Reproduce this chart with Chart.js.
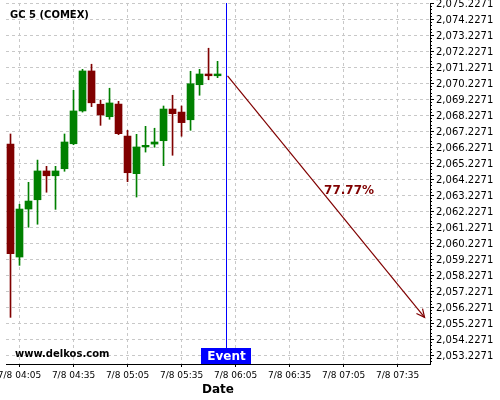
<!DOCTYPE html>
<html><head><meta charset="utf-8">
<script src="https://cdn.jsdelivr.net/npm/chart.js@4"></script>
<style>html,body{margin:0;padding:0;background:#fff}#wrap{width:500px;height:400px}</style>
</head><body><div id="wrap"><canvas id="c" width="500" height="400"></canvas></div>
<script>
// ---- data ----
const chartTitle = 'GC 5 (COMEX)';
const dateLabel = '7/8';
const times = ['04:00','04:05','04:10','04:15','04:20','04:25','04:30','04:35','04:40','04:45','04:50','04:55',
               '05:00','05:05','05:10','05:15','05:20','05:25','05:30','05:35','05:40','05:45','05:50','05:55'];
const openV  = [2066.41,2059.35,2062.35,2062.93,2064.73,2064.43,2064.87,2066.43,2068.48,2070.98,2068.90,2068.12,
                2068.91,2066.91,2064.56,2066.23,2066.41,2066.62,2068.60,2068.41,2067.93,2070.12,2070.79,2070.68];
const highV  = [2067.04,2062.65,2064.02,2065.41,2065.02,2065.02,2067.04,2069.77,2071.08,2071.40,2069.16,2069.90,
                2069.08,2067.27,2067.02,2067.52,2067.40,2068.79,2069.46,2068.79,2070.96,2071.08,2072.40,2071.58];
const lowV   = [2055.58,2058.83,2061.21,2061.40,2063.40,2062.33,2064.71,2066.37,2068.41,2068.75,2067.58,2067.96,
                2067.00,2064.06,2063.10,2065.91,2066.21,2065.06,2065.71,2066.90,2067.27,2069.46,2070.43,2070.56];
const closeV = [2059.56,2062.35,2062.85,2064.73,2064.43,2064.73,2066.54,2068.48,2070.98,2068.99,2068.23,2068.98,
                2067.06,2064.62,2066.23,2066.33,2066.54,2068.60,2068.31,2067.75,2070.18,2070.79,2070.68,2070.79];
const xTickTimes = ['04:05','04:35','05:05','05:35','06:05','06:35','07:05','07:35'];
const yTickValues = [2053.2271,2054.2271,2055.2271,2056.2271,2057.2271,2058.2271,2059.2271,2060.2271,2061.2271,
                     2062.2271,2063.2271,2064.2271,2065.2271,2066.2271,2067.2271,2068.2271,2069.2271,2070.2271,
                     2071.2271,2072.2271,2073.2271,2074.2271,2075.2271];
const eventTime = '06:00';
const eventLabel = 'Event';
const forecastTimes = ['06:00','07:50'];
const forecastValues = [2070.68, 2055.58];
const forecastLabel = '77.77%';
const watermark = 'www.delkos.com';
const axisTitle = 'Date';

// ---- helpers ----
const toMin = t => { const p = t.split(':'); return (+p[0]) * 60 + (+p[1]); };
const fmtMin = m => String(Math.floor(m / 60)).padStart(2, '0') + ':' + String(Math.round(m % 60)).padStart(2, '0');
const fmtPrice = v => v.toLocaleString('en-US', {minimumFractionDigits: 4, maximumFractionDigits: 4});

const UP = '#008000', DOWN = '#800000';
const colors = times.map((t, i) => closeV[i] >= openV[i] ? UP : DOWN);
const bodyData = times.map((t, i) => ({x: toMin(t), y: [openV[i], closeV[i]]}));
const wickData = times.map((t, i) => ({x: toMin(t), y: [lowV[i], highV[i]]}));

Chart.defaults.font.family = "'DejaVu Sans', sans-serif";
Chart.defaults.color = '#000';

const overlay = {
  id: 'overlay',
  afterDatasetsDraw(chart) {
    const ctx = chart.ctx, xs = chart.scales.x, ys = chart.scales.y, a = chart.chartArea;
    ctx.save();
    // minor ticks on right axis
    ctx.strokeStyle = '#000'; ctx.lineWidth = 1;
    ctx.beginPath();
    for (let k = 0; k < yTickValues.length; k++) {
      for (let j = 1; j < 5; j++) {
        const v = yTickValues[k] - j * 0.2;
        if (v < ys.min) continue;
        const y = Math.round(ys.getPixelForValue(v)) + 0.5;
        ctx.moveTo(a.right, y); ctx.lineTo(a.right + 2, y);
      }
    }
    ctx.stroke();
    // event line
    const ex = Math.floor(xs.getPixelForValue(toMin(eventTime))) + 0.5;
    ctx.strokeStyle = '#0000ff';
    ctx.beginPath(); ctx.moveTo(ex, a.top); ctx.lineTo(ex, a.bottom); ctx.stroke();
    // forecast arrow
    const x1 = xs.getPixelForValue(toMin(forecastTimes[0])) + 1, y1 = ys.getPixelForValue(forecastValues[0]);
    const x2 = xs.getPixelForValue(toMin(forecastTimes[1])), y2 = ys.getPixelForValue(forecastValues[1]);
    ctx.strokeStyle = '#800000'; ctx.lineWidth = 1.2;
    ctx.beginPath(); ctx.moveTo(x1, y1); ctx.lineTo(x2, y2); ctx.stroke();
    const ang = Math.atan2(y2 - y1, x2 - x1), hl = 9, spread = 0.45;
    ctx.beginPath();
    ctx.moveTo(x2 - hl * Math.cos(ang - spread), y2 - hl * Math.sin(ang - spread));
    ctx.lineTo(x2, y2);
    ctx.lineTo(x2 - hl * Math.cos(ang + spread), y2 - hl * Math.sin(ang + spread));
    ctx.stroke();
    // forecast label
    ctx.fillStyle = '#800000';
    ctx.font = "bold 12px 'DejaVu Sans'";
    ctx.textAlign = 'center'; ctx.textBaseline = 'middle';
    ctx.fillText(forecastLabel, (x1 + x2) / 2 + 23, (y1 + y2) / 2 - 6);
    // event box
    ctx.fillStyle = '#0000ff';
    ctx.fillRect(ex - 25.5, a.bottom - 16, 50, 16);
    ctx.fillStyle = '#fff';
    ctx.font = "bold 12px 'DejaVu Sans'";
    ctx.fillText(eventLabel, ex, a.bottom - 7.5);
    // title & watermark
    ctx.fillStyle = '#000';
    ctx.font = "bold 10px 'DejaVu Sans'";
    ctx.textAlign = 'left';
    ctx.fillText(chartTitle, a.left + 4, 15);
    ctx.fillText(watermark, a.left + 9, a.bottom - 10);
    ctx.restore();
  }
};

new Chart(document.getElementById('c'), {
  type: 'bar',
  data: {
    datasets: [
      {data: bodyData, backgroundColor: colors, barThickness: 7, grouped: false, order: 0, borderWidth: 0, borderSkipped: false},
      {data: wickData, backgroundColor: colors, barThickness: 1, grouped: false, order: 1, borderWidth: 0, borderSkipped: false}
    ]
  },
  options: {
    responsive: false,
    animation: false,
    devicePixelRatio: 1,
    layout: {padding: {left: 6, top: 3, right: 0, bottom: 0}},
    plugins: {legend: {display: false}, tooltip: {enabled: false}},
    scales: {
      x: {
        type: 'linear',
        offset: false,
        min: 237.5, max: 473,
        afterBuildTicks: s => { s.ticks = xTickTimes.map(t => ({value: toMin(t)})); },
        afterFit: s => { s.paddingLeft = 0; s.paddingRight = 0; s.height = 36; },
        ticks: {autoSkip: false, maxRotation: 0, minRotation: 0, padding: 3, font: {size: 9}, color: '#000',
                callback: v => dateLabel + ' ' + fmtMin(v)},
        grid: {offset: false, color: '#c8c8c8', tickColor: '#000', tickLength: 3, tickBorderDash: []},
        border: {display: true, color: '#000', width: 1, dash: [3, 3]},
        title: {display: true, text: axisTitle, font: {size: 12, weight: 'bold'}, color: '#000', padding: {top: 0, bottom: 3}}
      },
      y: {
        position: 'right',
        min: 2052.665, max: 2075.2271,
        afterBuildTicks: s => { s.ticks = yTickValues.map(v => ({value: v})); },
        afterFit: s => { s.paddingTop = 0; s.paddingBottom = 0; s.width = 70; },
        ticks: {padding: 2, labelOffset: 1.5, font: {size: 10}, color: '#000', callback: v => fmtPrice(v)},
        grid: {color: '#c8c8c8', tickColor: '#000', tickLength: 4, tickBorderDash: []},
        border: {display: true, color: '#000', width: 1, dash: [3, 3]}
      }
    }
  },
  plugins: [overlay]
});
</script>
</body></html>
